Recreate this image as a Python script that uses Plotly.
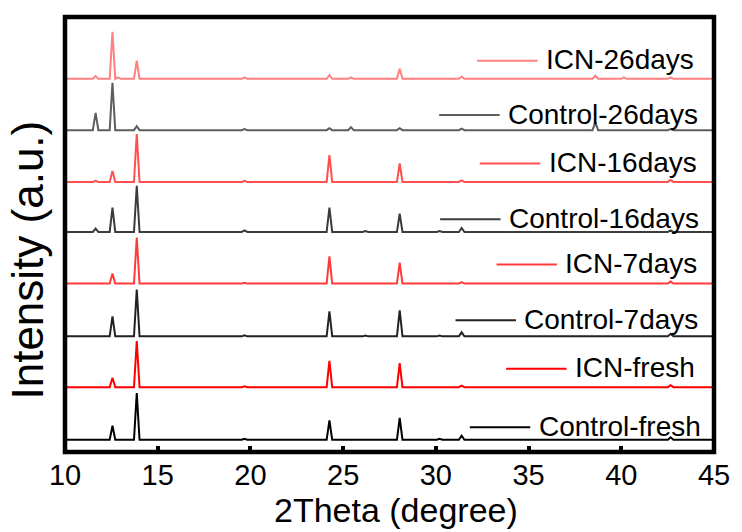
import plotly.graph_objects as go

# XRD patterns, stacked from bottom to top
series_names = ["Control-fresh", "ICN-fresh", "Control-7days", "ICN-7days",
                "Control-16days", "ICN-16days", "Control-26days", "ICN-26days"]
series_colors = ["#000000", "#ff0000", "#222222", "#ff3a3a",
                 "#3c3c3c", "#ff4f4f", "#5e5e5e", "#ff8080"]
# vertical offset of each pattern (a.u.)
offsets = [12.2, 64.8, 115.5, 168.2, 219.8, 269.8, 321.5, 372.8]

# reflection positions (2theta, degree)
peak_pos = [11.65, 12.56, 12.86, 13.87, 19.68, 24.26, 25.42, 26.2,
            28.05, 30.2, 31.39, 38.6, 40.14, 42.66]
# reflection intensities (a.u.) for each pattern, same order as peak_pos
heights_control_fresh = [0, 14, 0, 46.7, 1, 19.3, 0, 0, 22, 1, 4, 0, 0, 2.5]
heights_icn_fresh = [0, 9.4, 0, 46, 0.8, 26.3, 0, 0, 24, 0, 1.5, 0, 0, 2]
heights_control_7 = [0, 20, 0, 46.7, 1, 25, 0, 0.8, 26, 0.8, 4, 0, 0, 2.5]
heights_icn_7 = [0, 10, 0, 46, 0.8, 27.3, 0, 0, 21, 0, 1.5, 0, 0, 2]
heights_control_16 = [3.4, 24.4, 0, 46, 1.5, 24.3, 0, 1, 18.4, 1, 4, 0, 0, 1.5]
heights_icn_16 = [1, 11, 0, 47.7, 1, 26.7, 0, 0, 18.4, 0, 1.5, 0, 0, 2]
heights_control_26 = [17.3, 47.3, 0, 4, 1, 2, 3, 0, 2, 0, 1.5, 8, 0, 1]
heights_icn_26 = [2.7, 47, 1.5, 18, 1.5, 3.7, 1.5, 0, 10, 0, 2, 3, 1.5, 1.5]

all_heights = [heights_control_fresh, heights_icn_fresh, heights_control_7,
               heights_icn_7, heights_control_16, heights_icn_16,
               heights_control_26, heights_icn_26]

x_ticks = [10, 15, 20, 25, 30, 35, 40, 45]

# label placement: left edge of text (degree) and height (a.u.)
label_x = [35.54, 37.50, 34.77, 36.98, 33.94, 36.08, 33.89, 35.93]
label_y = [24.8, 83.2, 131.5, 187.2, 232.5, 288.2, 336.5, 390.8]

X_MIN, X_MAX = 10, 45
HALF_W = 0.15          # half base width of a reflection
FONT = "Arial, Liberation Sans, sans-serif"

fig = go.Figure()

for name, color, off, hts in zip(series_names, series_colors, offsets, all_heights):
    xs, ys = [X_MIN], [off]
    for p, h in zip(peak_pos, hts):
        if h <= 0:
            continue
        xs += [p - HALF_W, p, p + HALF_W]
        ys += [off, off + h, off]
    xs.append(X_MAX)
    ys.append(off)
    fig.add_trace(go.Scatter(x=xs, y=ys, mode="lines", name=name,
                             line=dict(color=color, width=2),
                             showlegend=False, hoverinfo="skip"))

# per-pattern labels with a short line sample in front
GAP = 0.45
SAMPLE_LEN = 3.26
for name, color, lx, ly in zip(series_names, series_colors, label_x, label_y):
    fig.add_shape(type="line", xref="x", yref="y",
                  x0=lx - GAP - SAMPLE_LEN, x1=lx - GAP, y0=ly, y1=ly,
                  line=dict(color=color, width=2))
    fig.add_annotation(x=lx - 0.1, y=ly + 1, xref="x", yref="y",
                       text=name, showarrow=False, xanchor="left", yanchor="middle",
                       font=dict(family=FONT, size=28, color="black"))

# axis titles
fig.add_annotation(x=0.510, y=-0.1335, xref="paper", yref="paper",
                   text="2Theta (degree)", showarrow=False,
                   xanchor="center", yanchor="middle",
                   font=dict(family=FONT, size=34, color="black"))
fig.add_annotation(x=-0.0573, y=0.442, xref="paper", yref="paper",
                   text="Intensity (a.u.)", showarrow=False, textangle=-90,
                   xanchor="center", yanchor="middle",
                   font=dict(family=FONT, size=44, color="black"))

# frame
fig.add_shape(type="rect", xref="paper", yref="paper", x0=0, x1=1, y0=0, y1=1,
              line=dict(color="black", width=4.5), layer="above")

fig.update_xaxes(range=[X_MIN, X_MAX], tickvals=x_ticks, ticks="inside",
                 ticklen=6, tickwidth=3.5, tickcolor="black",
                 ticklabelstandoff=3,
                 minor=dict(dtick=2.5, tick0=10, ticks="inside", ticklen=2,
                            tickwidth=3, tickcolor="black"),
                 showgrid=False, zeroline=False, showline=False,
                 tickfont=dict(family=FONT, size=29, color="black"))
fig.update_yaxes(range=[0, 434.5], showticklabels=False, ticks="",
                 showgrid=False, zeroline=False, showline=False)

fig.update_layout(width=742, height=532,
                  margin=dict(l=65, r=22, t=17, b=80),
                  plot_bgcolor="white", paper_bgcolor="white")

fig.write_html("out.html")
